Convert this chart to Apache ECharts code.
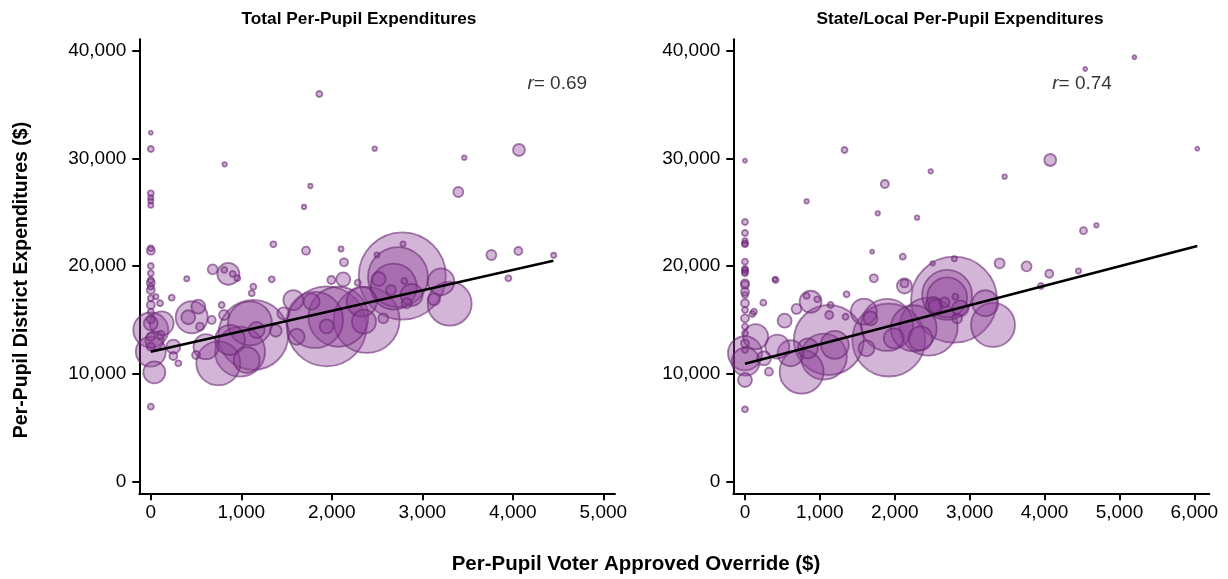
<!DOCTYPE html>
<html>
<head>
<meta charset="utf-8">
<script src="https://cdn.jsdelivr.net/npm/echarts@6/dist/echarts.min.js"></script>
<style>
html,body{margin:0;padding:0;background:#fff;}
#chart{width:1228px;height:579px;}
</style>
</head>
<body>
<div id="chart"></div>
<script>
// ---- Data: [override $, expenditures $, enrollment] ----
var totalPoints = [
  [0,32390,240],[0,30877,540],[1862,35981,540],[816,29457,300],[2474,30905,300],
  [3464,30070,300],[4068,30785,2160],[3398,26886,1500],[1763,27443,300],[1693,25494,300],
  [0,26760,540],[0,26357,400],[0,26051,400],[0,25650,400],[0,21660,540],[0,21440,960],
  [1354,22030,540],[1715,21440,960],[2102,21597,400],[2135,20360,960],[2787,22060,400],
  [2500,21040,400],[3763,21040,1500],[4061,21411,960],[4452,21010,400],[3951,18877,540],
  [2779,19090,114000],[2731,18980,54000],[2684,18100,31740],[3207,18560,10600],[3302,16520,29040],
  [2882,17330,7260],[2518,18810,2940],[2654,17790,1500],[3129,16930,2160],[2801,18630,540],
  [2286,18470,540],[2827,16560,1500],
  [1943,14420,96000],[1814,15010,47040],[2072,15310,54000],[2385,15010,65340],[2330,16710,13500],
  [2356,14850,8640],[1943,14420,2940],[1612,13450,3840],[1575,16860,6000],[1777,16710,3840],
  [2127,18780,2940],[1995,18720,960],[2569,15165,1500],[1464,15630,2160],
  [1133,13615,73500],[1096,14700,29040],[1060,11295,10140],[986,12065,37500],[746,10990,29040],
  [875,13150,13500],[610,12530,9375],[452,15260,15360],[525,16240,2940],[414,15260,2940],
  [857,19280,7260],[684,19710,1500],[812,19650,540],[905,19280,540],[956,18880,540],
  [1170,14080,3840],[1380,14010,2160],[783,16400,540],[809,15470,1500],[673,15010,960],
  [544,14390,960],[500,11760,960],[1115,17480,540],[1133,18100,540],[1336,18780,540],[397,18840,400],
  [0,14080,18375],[120,14700,8640],[0,12065,13500],[39,10150,7260],[249,12530,2940],
  [249,11665,960],[304,10990,540],[231,17080,540],[102,16560,540],[0,6960,540],
  [0,20020,540],[0,19340,540],[0,18720,540],[0,18470,960],[0,18100,540],[0,17790,960],
  [0,17020,540],[0,16400,960],[0,15780,540],[0,15070,960],[0,13460,960],[0,12530,960],
  [57,17170,400],[109,13615,960],[0,14700,2940],[40,13100,5000]
];
var statePoints = [
  [5200,39390,240],[4543,38300,240],[1329,30785,540],[0,29790,240],[6040,30905,240],
  [4076,29856,2160],[1867,27630,960],[2480,28807,300],[3467,28310,300],[823,26020,300],
  [1773,24910,300],[2298,24500,300],[4520,23300,735],[4693,23790,300],
  [0,24100,540],[0,23080,540],[0,22370,400],[0,22030,540],[0,20420,540],[0,19740,540],[0,19490,540],
  [1698,21350,240],[2107,20880,540],[3400,20270,1500],[3760,19990,1500],[4063,19300,960],
  [4453,19550,400],[400,18780,300],[1720,18877,960],[2507,20270,300],[2796,20700,400],
  [2792,16890,110940],[2699,17330,37500],[2699,17100,24000],[3209,16560,10140],[3312,14545,29040],
  [2876,16090,3840],[2809,17170,540],[2663,16650,1500],[2543,16240,2940],[2832,15165,1500],
  [3952,18160,540],[2129,18160,3375],[2129,18400,960],
  [1920,13150,79935],[1898,14545,40560],[2253,14240,31740],[2453,14390,50460],[1587,15780,10140],
  [2343,13310,8640],[1987,13310,6000],[2520,16400,3840],[1676,15165,2940],[1623,12380,3840],
  [1120,13150,73500],[756,10210,29040],[1053,11600,31740],[1200,12700,11760],[876,16700,7260],
  [689,16030,1500],[823,17240,540],[965,16930,540],[529,14940,2940],[432,12530,8640],
  [609,11920,10140],[840,12380,6000],[1356,17390,540],[1125,15470,960],[1343,15310,540],
  [1143,16400,540],[245,16610,540],[409,18720,540],[98,15565,540],
  [9,11140,11760],[143,13460,9375],[0,11920,17340],[0,9440,2940],[0,6720,540],
  [0,22120,540],[0,19650,540],[0,19340,540],[0,18410,960],[0,18260,960],[0,17630,960],
  [0,17330,540],[0,16560,960],[0,15940,540],[0,15160,960],[0,14390,540],[0,13770,540],
  [0,12840,960],[0,12220,540],[253,11450,2940],[320,10210,960],[120,15780,540]
];
var totalFit = [[0,12065],[4448,20510]];
var stateFit = [[0,10950],[6040,21874]];
var totalR = "0.69";
var stateR = "0.74";
var totalXTicks = [0,1000,2000,3000,4000,5000];
var stateXTicks = [0,1000,2000,3000,4000,5000,6000];
var yTicks = [0,10000,20000,30000,40000];
var panelTitles = ["Total Per-Pupil Expenditures","State/Local Per-Pupil Expenditures"];
var xAxisTitle = "Per-Pupil Voter Approved Override ($)";
var yAxisTitle = "Per-Pupil District Expenditures ($)";
var rLabelPos = [[4161,36910],[4103,36910]];

var FONT = "'Liberation Sans', Arial, Helvetica, sans-serif";
function fmt(v){ return v.toLocaleString('en-US'); }
function bySize(a){ return a.slice().sort(function(p,q){return q[2]-p[2];}); }

function xAxisOf(idx, min, max, ticks){
  return {
    type:'value', gridIndex:idx, min:min, max:max,
    splitLine:{show:false},
    axisLine:{show:true, onZero:false, lineStyle:{color:'#000', width:2}},
    axisTick:{show:true, length:7, lineStyle:{color:'#000', width:2}, customValues:ticks},
    axisLabel:{color:'#000', fontSize:19, fontFamily:FONT, margin:10, customValues:ticks, formatter:fmt}
  };
}
function yAxisOf(idx){
  return {
    type:'value', gridIndex:idx, min:-1077, max:41058,
    splitLine:{show:false},
    axisLine:{show:true, onZero:false, lineStyle:{color:'#000', width:2}},
    axisTick:{show:true, length:7, lineStyle:{color:'#000', width:2}, customValues:yTicks},
    axisLabel:{color:'#000', fontSize:19, fontFamily:FONT, margin:13, customValues:yTicks, formatter:fmt}
  };
}
function bubbles(idx, data){
  return {
    type:'scatter', xAxisIndex:idx, yAxisIndex:idx, data:bySize(data),
    symbolSize:function(v){ return 2*Math.sqrt(v[2]/60); },
    itemStyle:{color:'rgba(140,62,151,0.48)', borderColor:'rgba(105,40,115,0.75)', borderWidth:1.8},
    emphasis:{disabled:true}, z:2
  };
}
function fit(idx, data){
  return {
    type:'line', xAxisIndex:idx, yAxisIndex:idx, data:data, symbol:'none',
    lineStyle:{color:'#000', width:2.6}, z:5, emphasis:{disabled:true}
  };
}
function rLabel(idx, pos, r){
  return {
    type:'scatter', xAxisIndex:idx, yAxisIndex:idx, data:[pos], symbolSize:0, z:6,
    label:{show:true, position:'inside', align:'left', verticalAlign:'middle',
      formatter:'{i|r}{n|= '+r+'}',
      rich:{i:{fontStyle:'italic', fontSize:19, fontFamily:FONT, color:'#000'},
            n:{fontSize:19, fontFamily:FONT, color:'#000'}}},
    emphasis:{disabled:true}
  };
}

var chart = echarts.init(document.getElementById('chart'), null, {renderer:'canvas'});
chart.setOption({
  animation:false,
  backgroundColor:'#fff',
  title:[
    {text:panelTitles[0], left:354, top:6, textAlign:'center',
     textStyle:{fontSize:17.3, fontWeight:'bold', fontFamily:FONT, color:'#000'}},
    {text:panelTitles[1], left:955, top:6, textAlign:'center',
     textStyle:{fontSize:17.3, fontWeight:'bold', fontFamily:FONT, color:'#000'}}
  ],
  grid:[
    {left:139.3, top:39.3, width:475.7, height:454},
    {left:733.3, top:39.3, width:476, height:454}
  ],
  xAxis:[ xAxisOf(0,-127,5129,totalXTicks), xAxisOf(1,-156,6200,stateXTicks) ],
  yAxis:[ yAxisOf(0), yAxisOf(1) ],
  graphic:[
    {type:'text', x:636, y:564, style:{text:xAxisTitle, fontSize:20.5, fontWeight:'bold', fontFamily:FONT,
      fill:'#000', align:'center', verticalAlign:'middle'}},
    {type:'text', x:22, y:280, rotation:Math.PI/2, style:{text:yAxisTitle, fontSize:19.5, fontWeight:'bold',
      fontFamily:FONT, fill:'#000', align:'center', verticalAlign:'middle'}}
  ],
  series:[
    bubbles(0,totalPoints), fit(0,totalFit), rLabel(0,rLabelPos[0],totalR),
    bubbles(1,statePoints), fit(1,stateFit), rLabel(1,rLabelPos[1],stateR)
  ]
});
</script>
</body>
</html>
